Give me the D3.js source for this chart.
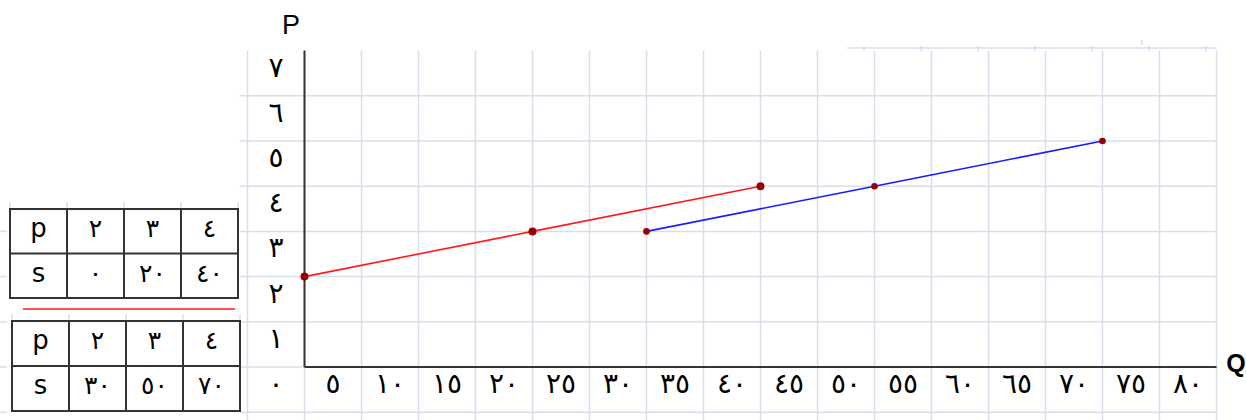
<!DOCTYPE html>
<html>
<head>
<meta charset="utf-8">
<script src="https://cdn.jsdelivr.net/npm/d3@7"></script>
<style>
  body { margin: 0; background: #fff; }
  svg { display: block; }
</style>
</head>
<body>
<div id="chart"></div>
<script>
// plotted series (Q, P)
const redQ = [0, 20, 40];
const redP = [2, 3, 4];
const blueQ = [30, 50, 70];
const blueP = [3, 4, 5];

// tick labels
const xTicks = [5, 10, 15, 20, 25, 30, 35, 40, 45, 50, 55, 60, 65, 70, 75, 80];
const xLabels = ["٥", "١٠", "١٥", "٢٠", "٢٥", "٣٠", "٣٥", "٤٠", "٤٥", "٥٠", "٥٥", "٦٠", "٦٥", "٧٠", "٧٥", "٨٠"];
const yTicks = [0, 1, 2, 3, 4, 5, 6, 7];
const yLabels = ["٠", "١", "٢", "٣", "٤", "٥", "٦", "٧"];

// the two small tables
const tableRows = ["p", "s"];
const table1P = ["٢", "٣", "٤"];
const table1S = ["٠", "٢٠", "٤٠"];
const table2P = ["٢", "٣", "٤"];
const table2S = ["٣٠", "٥٠", "٧٠"];

const W = 1246, H = 420;
const gridColor = "#d9deec";
const axisColor = "#333";
const digitFont = "'DejaVu Sans', sans-serif";

const svg = d3.select("#chart").append("svg")
  .attr("width", W).attr("height", H);

svg.append("rect").attr("width", W).attr("height", H).attr("fill", "#fff");

const x = d3.scaleLinear().domain([0, 80]).range([304.5, 1216.5]);
const y = d3.scaleLinear().domain([0, 7]).range([367, 50.6]);
const colW = x(5) - x(0);

// spreadsheet grid
const grid = svg.append("g").attr("stroke", gridColor).attr("stroke-width", 1.5);
grid.selectAll("line.v")
  .data(d3.range(-5, 81, 5))
  .join("line")
  .attr("class", "v")
  .attr("x1", d => x(d)).attr("x2", d => x(d))
  .attr("y1", y(7)).attr("y2", H);
grid.selectAll("line.h")
  .data(d3.range(-1, 7))
  .join("line")
  .attr("class", "h")
  .attr("x1", x(-5) - 8).attr("x2", x(80))
  .attr("y1", d => y(d)).attr("y2", d => y(d));

// stray bits of the sheet border
grid.append("line").attr("x1", 847).attr("x2", x(80)).attr("y1", 48).attr("y2", 48);
grid.selectAll("line.t")
  .data(d3.range(0, 7))
  .join("line")
  .attr("class", "t")
  .attr("x1", d => 864 + d * colW).attr("x2", d => 864 + d * colW)
  .attr("y1", 46).attr("y2", 51);
grid.append("line").attr("x1", 1142).attr("x2", 1142).attr("y1", 40).attr("y2", 45);
grid.selectAll("line.l")
  .data(d3.range(-1, 4))
  .join("line")
  .attr("class", "l")
  .attr("x1", 0).attr("x2", 7)
  .attr("y1", d => y(d)).attr("y2", d => y(d));

// axes
svg.append("line")
  .attr("x1", x(0)).attr("x2", x(0)).attr("y1", y(7)).attr("y2", y(0))
  .attr("stroke", axisColor).attr("stroke-width", 2);
svg.append("line")
  .attr("x1", x(0)).attr("x2", x(80)).attr("y1", y(0)).attr("y2", y(0))
  .attr("stroke", axisColor).attr("stroke-width", 2);

svg.selectAll("text.xl")
  .data(xTicks)
  .join("text")
  .attr("class", "xl")
  .attr("x", d => x(d) - colW / 2)
  .attr("y", y(0) + 26)
  .attr("text-anchor", "middle")
  .style("font-family", digitFont)
  .style("font-size", "28px")
  .style("letter-spacing", "-3px")
  .text((d, i) => xLabels[i]);

svg.selectAll("text.yl")
  .data(yTicks)
  .join("text")
  .attr("class", "yl")
  .attr("x", x(-5) + colW / 2)
  .attr("y", d => y(d) + 26)
  .attr("text-anchor", "middle")
  .style("font-family", digitFont)
  .style("font-size", "28px")
  .text((d, i) => yLabels[i]);

svg.append("text")
  .attr("x", 291).attr("y", 34)
  .attr("text-anchor", "middle")
  .style("font-family", "'Liberation Sans', Arial, sans-serif")
  .style("font-size", "27px")
  .text("P");
svg.append("text")
  .attr("x", 1236).attr("y", 372)
  .attr("text-anchor", "middle")
  .style("font-family", "'Liberation Sans', Arial, sans-serif")
  .style("font-weight", "bold")
  .style("font-size", "25px")
  .text("Q");

// lines and points
const line = d3.line().x(d => x(d[0])).y(d => y(d[1]));
const series = [
  { q: redQ, p: redP, color: "#ff1a1a", r: 4 },
  { q: blueQ, p: blueP, color: "#1a1aff", r: 3.3 }
];
series.forEach(s => {
  const pts = s.q.map((q, i) => [q, s.p[i]]);
  svg.append("path")
    .attr("d", line(pts))
    .attr("fill", "none")
    .attr("stroke", s.color)
    .attr("stroke-width", 1.6);
  svg.selectAll(null)
    .data(pts)
    .join("circle")
    .attr("cx", d => x(d[0]))
    .attr("cy", d => y(d[1]))
    .attr("r", s.r)
    .attr("fill", "#990000");
});

// tables
function drawTable(x0, y0, w, h, pVals, sVals) {
  const cols = d3.scaleBand().domain(d3.range(4)).range([x0, x0 + w]);
  const rows = d3.scaleBand().domain(d3.range(2)).range([y0, y0 + h]);
  const t = svg.append("g");
  // sheet stubs above the table
  t.selectAll("line.stub")
    .data(d3.range(5))
    .join("line")
    .attr("x1", d => x0 + d * cols.bandwidth())
    .attr("x2", d => x0 + d * cols.bandwidth())
    .attr("y1", y0 - 7).attr("y2", y0)
    .attr("stroke", gridColor).attr("stroke-width", 1.5);
  t.append("rect")
    .attr("x", x0).attr("y", y0).attr("width", w).attr("height", h)
    .attr("fill", "#fff").attr("stroke", axisColor).attr("stroke-width", 2);
  t.selectAll("line.c")
    .data(d3.range(1, 4))
    .join("line")
    .attr("x1", d => cols(d)).attr("x2", d => cols(d))
    .attr("y1", y0).attr("y2", y0 + h)
    .attr("stroke", axisColor).attr("stroke-width", 2);
  t.append("line")
    .attr("x1", x0).attr("x2", x0 + w)
    .attr("y1", rows(1)).attr("y2", rows(1))
    .attr("stroke", axisColor).attr("stroke-width", 2);
  [pVals, sVals].forEach((vals, ri) => {
    const cells = [tableRows[ri]].concat(vals);
    t.selectAll(null)
      .data(cells)
      .join("text")
      .attr("x", (d, i) => cols(i) + cols.bandwidth() / 2)
      .attr("y", rows(ri) + 28)
      .attr("text-anchor", "middle")
      .style("font-family", digitFont)
      .style("font-size", (d, i) => i === 0 ? "26px" : "25px")
      .style("letter-spacing", (d, i) => i === 0 ? "0px" : "-3px")
      .text(d => d);
  });
}

drawTable(10, 209, 228, 89, table1P, table1S);
drawTable(12, 321, 228, 90, table2P, table2S);

svg.append("line")
  .attr("x1", 23).attr("x2", 235).attr("y1", 309).attr("y2", 309)
  .attr("stroke", "#ff1a1a").attr("stroke-width", 1.5);
</script>
</body>
</html>
